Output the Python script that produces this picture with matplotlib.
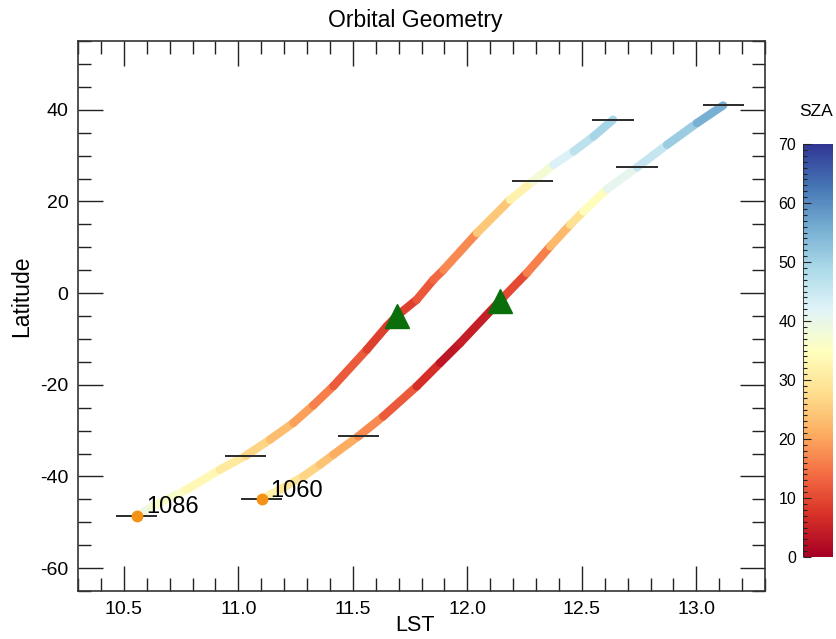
import numpy as np
import matplotlib
matplotlib.use("Agg")
import matplotlib.pyplot as plt
from matplotlib.collections import LineCollection
from matplotlib.colors import Normalize
from matplotlib.cm import ScalarMappable
from matplotlib.ticker import MultipleLocator, FormatStrFormatter

plt.rcParams['font.family'] = ['Liberation Sans', 'DejaVu Sans']
plt.rcParams['axes.unicode_minus'] = False

# orbit 1086 ground track
lst_1086 = [10.556, 10.628, 10.774, 10.920, 11.033, 11.138, 11.240, 11.327,
            11.415, 11.561, 11.648, 11.693, 11.779, 11.852, 11.896, 12.042,
            12.187, 12.285, 12.376, 12.464, 12.551, 12.636]
lat_1086 = [-48.70, -46.52, -42.88, -38.52, -35.46, -31.97, -28.33, -24.50,
            -20.30, -12.34, -7.26, -4.93, -1.44, 2.92, 5.10, 13.11,
            20.37, 24.36, 28.00, 30.91, 34.18, 37.82]
sza_1086 = [40, 38, 35, 32, 28, 25, 21, 18,
            14, 10, 8, 8, 10, 13, 14, 20,
            29, 35, 40, 45, 48, 51]

# orbit 1060 ground track
lst_1060 = [11.102, 11.182, 11.284, 11.357, 11.415, 11.524, 11.633, 11.779,
            11.881, 11.969, 12.143, 12.260, 12.362, 12.449, 12.507, 12.610,
            12.741, 12.872, 13.003, 13.117]
lat_1060 = [-44.91, -42.88, -39.98, -37.43, -35.25, -31.25, -26.89, -20.35,
            -15.25, -10.88, -1.66, 4.38, 10.19, 14.92, 17.82, 22.70,
            27.42, 32.37, 37.10, 40.94]
sza_1060 = [33, 31, 28, 25, 23, 19, 15, 9,
            5, 2, 7, 13, 19, 26, 31, 38,
            43, 48, 54, 57]

# time marks along each track
mark_lst_1086 = [10.556, 11.033, 12.285, 12.636]
mark_lat_1086 = [-48.70, -35.46, 24.36, 37.82]
mark_lst_1060 = [11.102, 11.524, 12.741, 13.117]
mark_lat_1060 = [-44.91, -31.25, 27.42, 40.94]

# flagged point on each track
tri_lst = [11.693, 12.143]
tri_lat = [-4.93, -1.66]

orbit_names = ['1086', '1060']
label_lst = [10.60, 11.138]
label_lat = [-47.9, -44.4]

cmap = plt.get_cmap('RdYlBu')
norm = Normalize(vmin=0, vmax=70)

fig = plt.figure(figsize=(8.36, 6.39), dpi=100)
ax = fig.add_axes([0.0933, 0.0751, 0.8218, 0.8607])


def draw_track(lst, lat, sza):
    pts = np.column_stack([lst, lat]).reshape(-1, 1, 2)
    segs = np.concatenate([pts[:-1], pts[1:]], axis=1)
    sza = np.asarray(sza, dtype=float)
    lc = LineCollection(segs, cmap=cmap, norm=norm, linewidths=6,
                        capstyle='round', joinstyle='round', zorder=2)
    lc.set_array((sza[:-1] + sza[1:]) / 2)
    ax.add_collection(lc)


draw_track(lst_1086, lat_1086, sza_1086)
draw_track(lst_1060, lat_1060, sza_1060)

for mx, my in [(mark_lst_1086, mark_lat_1086), (mark_lst_1060, mark_lat_1060)]:
    mx = np.asarray(mx)
    ax.hlines(my, mx - 0.09, mx + 0.09, colors='#2a2a2a', linewidth=1.4, zorder=3)

ax.plot(tri_lst, tri_lat, linestyle='none', marker='^', markersize=17,
        color='#0a6e0a', zorder=4)
ax.plot([lst_1086[0], lst_1060[0]], [lat_1086[0], lat_1060[0]], linestyle='none',
        marker='o', markersize=7.5, color='#f39214', zorder=4)

for name, tx, ty in zip(orbit_names, label_lst, label_lat):
    ax.text(tx, ty, name, fontsize=17, ha='left', va='baseline', zorder=5)

ax.set_xlim(10.3, 13.3)
ax.set_ylim(-65, 55)
ax.xaxis.set_major_locator(MultipleLocator(0.5))
ax.xaxis.set_minor_locator(MultipleLocator(0.1))
ax.yaxis.set_major_locator(MultipleLocator(20))
ax.yaxis.set_minor_locator(MultipleLocator(5))
ax.xaxis.set_major_formatter(FormatStrFormatter('%.1f'))
ax.tick_params(which='both', direction='in', top=True, right=True,
               width=1.0, labelsize=14, color='#222222')
ax.tick_params(which='major', length=18, pad=7)
ax.tick_params(which='minor', length=9.5)
for sp in ax.spines.values():
    sp.set_linewidth(1.2)
    sp.set_color('#333333')

ax.set_xlabel('LST', fontsize=15.5, labelpad=-2, x=0.4905)
ax.set_ylabel('Latitude', fontsize=16.5)
ax.yaxis.set_label_coords(-0.066, 0.536)
ax.set_title('Orbital Geometry', fontsize=16.5, pad=10, x=0.4905)

# colour scale
cax = fig.add_axes([0.9605, 0.1283, 0.0359, 0.6463])
sm = ScalarMappable(norm=norm, cmap=cmap)
cb = fig.colorbar(sm, cax=cax, ticks=range(0, 71, 10))
cb.outline.set_visible(False)
cax.axvline(0, color='#222222', linewidth=1.2)
cax.yaxis.set_ticks_position('left')
cax.yaxis.set_label_position('left')
cax.yaxis.set_minor_locator(MultipleLocator(1))
cax.tick_params(which='both', direction='in', labelsize=11.5, width=0.8, color='#222222')
cax.tick_params(which='major', length=6, pad=5)
cax.tick_params(which='minor', length=3)
fig.text(0.976, 1 - 111 / 639, 'SZA', fontsize=12.5, ha='center', va='center')

fig.savefig('out.png', dpi=100)
